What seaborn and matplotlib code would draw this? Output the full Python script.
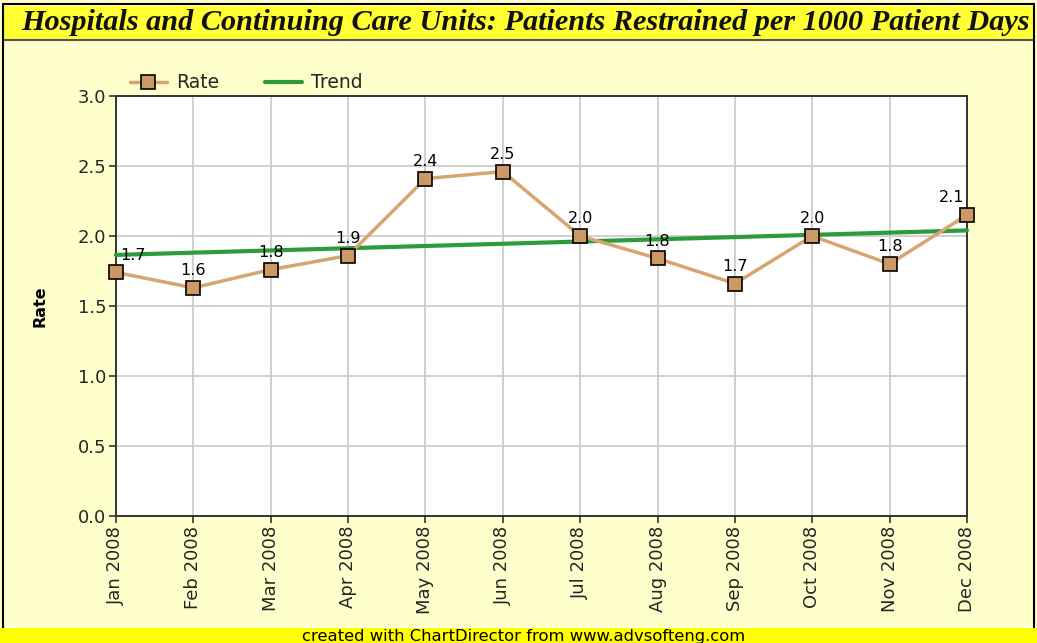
import matplotlib
matplotlib.use("Agg")
import matplotlib.pyplot as plt
import seaborn as sns
import pandas as pd
from matplotlib.patches import Rectangle

months = ["Jan 2008", "Feb 2008", "Mar 2008", "Apr 2008", "May 2008", "Jun 2008",
          "Jul 2008", "Aug 2008", "Sep 2008", "Oct 2008", "Nov 2008", "Dec 2008"]
rate = [1.74, 1.63, 1.76, 1.86, 2.41, 2.46, 2.00, 1.84, 1.66, 2.00, 1.80, 2.15]
rate_labels = ["1.7", "1.6", "1.8", "1.9", "2.4", "2.5", "2.0", "1.8", "1.7", "2.0", "1.8", "2.1"]
trend_ends = [1.865, 2.04]  # trend line value at first and last month

df = pd.DataFrame({"idx": range(len(months)), "month": months, "rate": rate})
trend_df = pd.DataFrame({"idx": [0, len(months) - 1], "trend": trend_ends})

sns.set_style("whitegrid")
plt.rcParams["font.family"] = ["DejaVu Sans"]

W, H = 1037, 643
fig = plt.figure(figsize=(W / 100, H / 100), dpi=100)
fig.patch.set_facecolor("#FFFFCC")

# plot area
ax = fig.add_axes([116 / W, 1 - 516 / H, (967 - 116) / W, (516 - 96) / H])
ax.set_facecolor("white")

sns.lineplot(data=df, x="idx", y="rate", ax=ax, color="#D7A56F", linewidth=2.5,
             marker="s", markersize=10, markerfacecolor="#CC9966",
             markeredgecolor="black", markeredgewidth=1.2, label="Rate", zorder=4)
sns.lineplot(data=trend_df, x="idx", y="trend", ax=ax, color="#2E9B3A",
             linewidth=3, label="Trend", zorder=3)

# value labels; the end ones are nudged inward like the original
last = len(rate) - 1
for i, (v, t) in enumerate(zip(rate, rate_labels)):
    dx = 12 if i == 0 else (-11 if i == last else 0)
    ax.annotate(t, (i, v), xytext=(dx, 7), textcoords="offset points",
                ha="center", va="bottom", fontsize=11.5, color="black", zorder=6,
                annotation_clip=False)

ax.set_xlim(0, len(months) - 1)
ax.set_ylim(0, 3.0)
ax.set_xticks(range(len(months)))
ax.set_xticklabels(months, rotation=90, fontsize=13)
ax.set_yticks([0, 0.5, 1.0, 1.5, 2.0, 2.5, 3.0])
ax.set_yticklabels(["0.0", "0.5", "1.0", "1.5", "2.0", "2.5", "3.0"], fontsize=13)
ax.grid(True, color="#C8C8C8", linewidth=1.2)
ax.tick_params(axis="both", which="both", direction="out", length=5, width=1.2,
               color="#333333", bottom=True, left=True, pad=2)
for s in ax.spines.values():
    s.set_color("#333333")
    s.set_linewidth(1.4)
ax.set_xlabel("")
ax.set_ylabel("Rate", fontsize=11.5, fontweight="bold", color="black")
ax.yaxis.set_label_coords((47 - 116) / 851, 0.5)
for ln in ax.lines:
    ln.set_clip_on(False)

leg = ax.legend(loc="center left", bbox_to_anchor=(122 / W, 1 - 83 / H),
                bbox_transform=fig.transFigure, ncol=2, frameon=False,
                fontsize=13.5, handlelength=2.0, columnspacing=2.4, borderaxespad=0,
                handletextpad=0.5)

# title bar
fig.patches.append(Rectangle((3 / W, 1 - 40 / H), 1031 / W, 34 / H, transform=fig.transFigure,
                             facecolor="#FFFF33", edgecolor="none", zorder=0))
fig.lines.append(plt.Line2D([3 / W, 1034 / W], [1 - 40 / H, 1 - 40 / H], transform=fig.transFigure,
                            color="#555555", linewidth=1.5))
fig.text(525 / W, 1 - 23 / H, "Hospitals and Continuing Care Units: Patients Restrained per 1000 Patient Days",
         ha="center", va="center", fontsize=21.8, fontweight="bold", fontstyle="italic",
         family=["Liberation Serif", "DejaVu Serif"], color="#111111")

# outer border
fig.patches.append(Rectangle((3 / W, 0), 1031 / W, 1 - 4 / H, transform=fig.transFigure,
                             facecolor="none", edgecolor="black", linewidth=1.5, zorder=10))

# footer bar
fig.patches.append(Rectangle((0, 0), 1, 15 / H, transform=fig.transFigure,
                             facecolor="#FFFF00", edgecolor="none", zorder=11))
fig.text(524 / W, 6 / H, "created with ChartDirector from www.advsofteng.com",
         ha="center", va="center", fontsize=11.8, color="black", zorder=12)

fig.savefig("out.png", dpi=100, facecolor=fig.get_facecolor())
